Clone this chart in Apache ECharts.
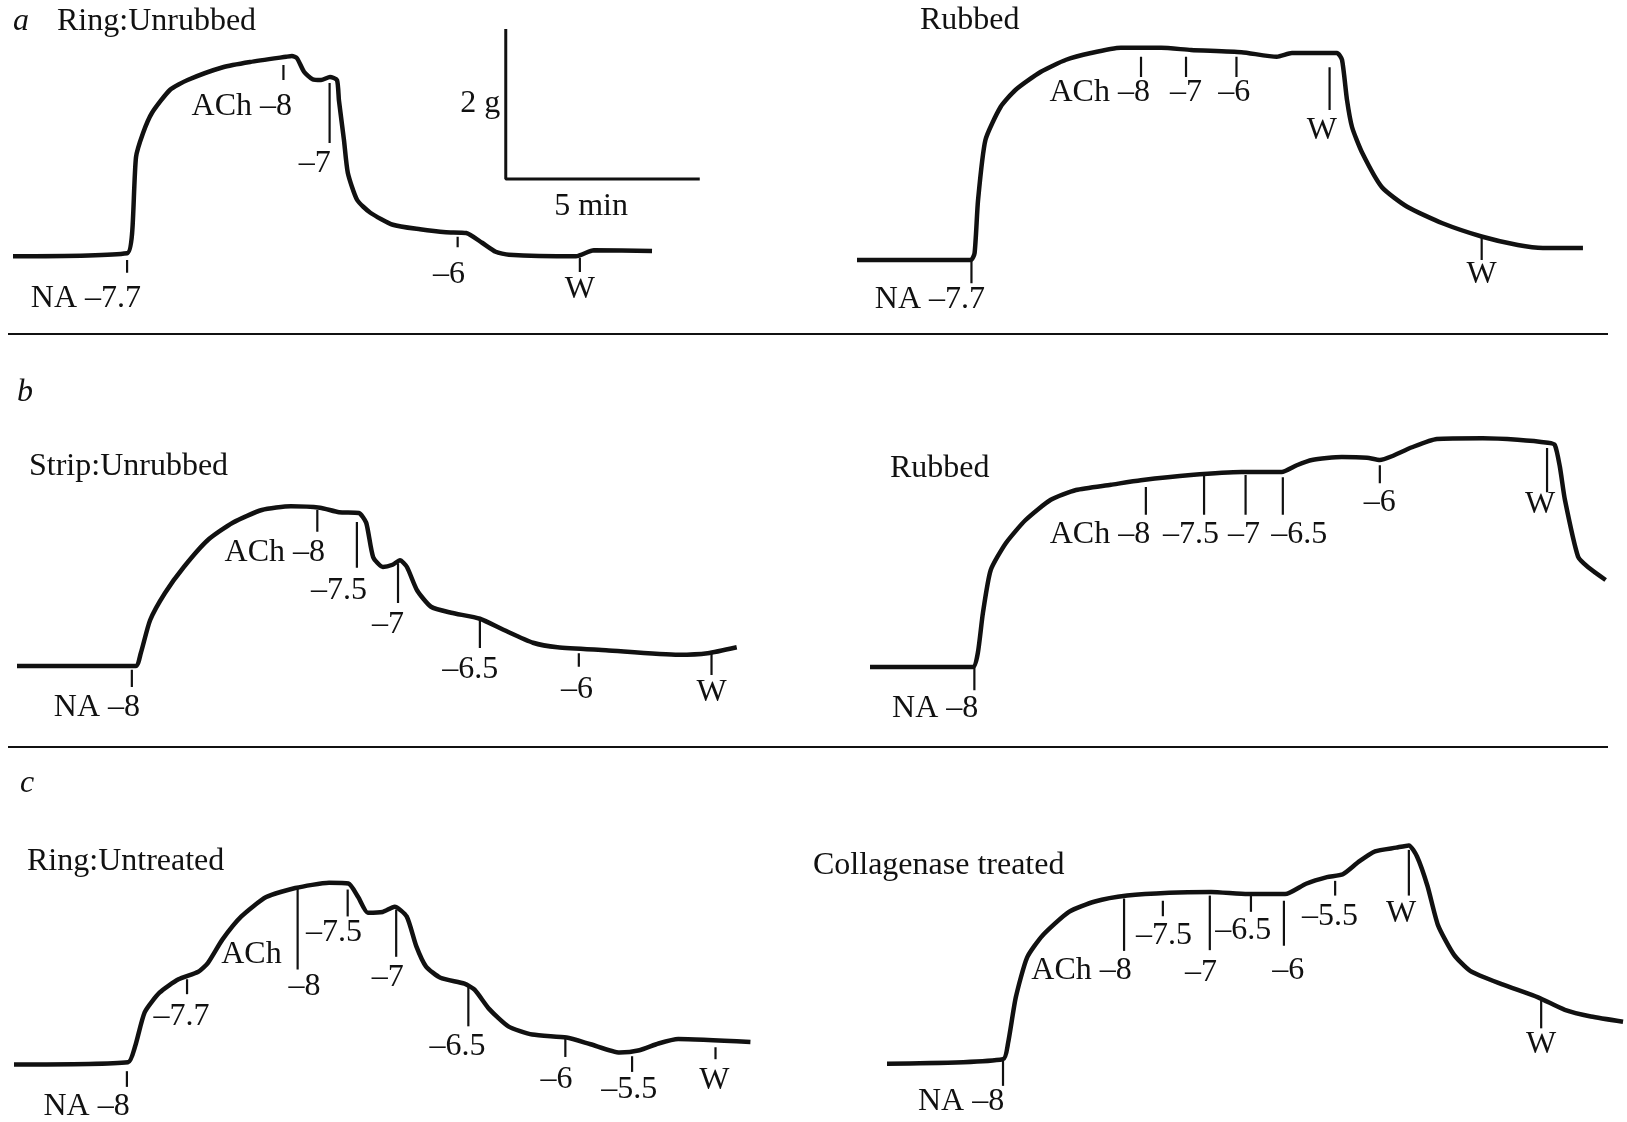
<!DOCTYPE html>
<html>
<head>
<meta charset="utf-8">
<title>Tension records</title>
<script src="https://cdn.jsdelivr.net/npm/echarts@6/dist/echarts.min.js"></script>
<style>
    html, body { margin: 0; padding: 0; background: #fff; }
    #chart { width: 1627px; height: 1122px; }
</style>
</head>
<body>
<div id="chart"></div>
<script>
// traces: [time (min), tension (g)]
const ringUnrubbedTrace = [[0,-0.03],[2.94,0.01],[3.07,0.28],[3.17,1.29],[3.35,1.61],[3.58,1.88],[4.05,2.19],[4.5,2.32],[5.41,2.49],[6.11,2.56],[7.04,2.63],[7.19,2.64],[7.32,2.61],[7.5,2.43],[7.72,2.33],[7.94,2.32],[8.17,2.36],[8.35,2.32],[8.4,2.05],[8.53,1.52],[8.63,1.08],[8.87,0.72],[9.21,0.55],[9.79,0.39],[10.49,0.33],[11.16,0.29],[11.68,0.28],[12.09,0.15],[12.44,0.03],[12.78,-0.01],[14.51,-0.03],[14.97,0.05],[16.47,0.04]];
const ringRubbedTrace = [[0,0],[2.93,0],[3.03,0.09],[3.12,0.8],[3.31,1.6],[3.7,2.04],[4.09,2.27],[4.74,2.51],[5.39,2.67],[6.03,2.76],[6.8,2.83],[7.84,2.83],[8.61,2.8],[9.91,2.77],[10.82,2.71],[11.21,2.76],[12.37,2.76],[12.5,2.67],[12.63,2.13],[12.76,1.77],[13.02,1.43],[13.53,0.97],[14.18,0.71],[15.09,0.49],[16.12,0.31],[17.03,0.2],[17.68,0.16],[18.71,0.16]];
const stripUnrubbedTrace = [[0,0],[3.06,0],[3.19,0.17],[3.43,0.61],[3.81,0.97],[4.3,1.32],[4.92,1.68],[5.56,1.91],[6.31,2.08],[7.06,2.13],[7.81,2.11],[8.3,2.05],[8.81,2.04],[9.0,1.91],[9.18,1.45],[9.43,1.32],[9.68,1.35],[9.87,1.41],[10.05,1.32],[10.31,1.01],[10.67,0.79],[11.19,0.71],[11.93,0.63],[12.55,0.48],[13.3,0.31],[13.93,0.25],[15.18,0.21],[17.05,0.15],[17.8,0.17],[18.55,0.25]];
const stripRubbedTrace = [[0,0],[2.65,0],[2.78,0.19],[2.91,0.72],[3.11,1.29],[3.5,1.65],[4.01,1.96],[4.66,2.23],[5.31,2.36],[6.21,2.43],[6.98,2.49],[8.27,2.56],[9.58,2.6],[10.61,2.6],[11.0,2.69],[11.39,2.76],[12.16,2.8],[12.81,2.79],[13.14,2.76],[13.45,2.81],[13.97,2.93],[14.61,3.04],[15.79,3.05],[16.69,3.03],[17.47,2.99],[17.65,2.96],[17.78,2.67],[17.91,2.23],[18.25,1.47],[18.51,1.33],[18.96,1.16]];
const ringUntreatedTrace = [[0,-0.03],[2.94,0],[3.12,0.21],[3.37,0.67],[3.75,0.93],[4.24,1.11],[4.75,1.21],[5.0,1.33],[5.37,1.64],[5.86,1.95],[6.5,2.21],[7.25,2.33],[8.12,2.4],[8.62,2.39],[8.87,2.21],[9.12,2.0],[9.5,2.01],[9.81,2.08],[10.12,1.95],[10.37,1.55],[10.62,1.28],[10.99,1.13],[11.61,1.05],[11.87,0.97],[12.25,0.71],[12.74,0.48],[13.36,0.37],[14.24,0.33],[14.86,0.24],[15.61,0.13],[16.12,0.16],[16.61,0.25],[17.12,0.31],[18.98,0.27]];
const collagenaseTrace = [[0,-0.01],[2.99,0.05],[3.12,0.27],[3.32,0.89],[3.61,1.43],[4.01,1.73],[4.69,2.05],[5.36,2.19],[6.19,2.27],[7.27,2.31],[8.35,2.32],[9.3,2.29],[10.26,2.29],[10.8,2.43],[11.34,2.52],[11.75,2.56],[12.16,2.73],[12.58,2.87],[13.12,2.92],[13.45,2.95],[13.66,2.8],[13.93,2.4],[14.2,1.87],[14.61,1.47],[15.03,1.25],[15.84,1.07],[16.78,0.89],[17.47,0.72],[18.14,0.63],[18.97,0.56]];

// drug marks: [time, tick top g, tick bottom g, label, label time, label g, align]
const ringUnrubbedMarks = [
    [2.94, -0.08, -0.25, 'NA –7.7', 1.88, -0.59, 'center'],
    [6.97, 2.52, 2.32, 'ACh –8', 7.19, 1.96, 'right'],
    [8.16, 2.28, 1.48, '–7', 7.78, 1.21, 'center'],
    [11.46, 0.23, 0.09, '–6', 11.24, -0.28, 'center'],
    [14.61, -0.05, -0.24, 'W', 14.61, -0.48, 'center'],
    [12.04, null, null, '2 g', 12.04, 2.0, 'center'],
    [14.9, null, null, '5 min', 14.9, 0.63, 'center']
];
const ringRubbedMarks = [
    [2.95, 0, -0.31, 'NA –7.7', 1.88, -0.53, 'center'],
    [7.32, 2.71, 2.44, 'ACh –8', 7.55, 2.23, 'right'],
    [8.48, 2.71, 2.44, '–7', 8.48, 2.23, 'center'],
    [9.78, 2.71, 2.44, '–6', 9.72, 2.23, 'center'],
    [12.18, 2.57, 2.0, 'W', 11.98, 1.73, 'center'],
    [16.1, 0.31, 0, 'W', 16.1, -0.2, 'center']
];
const stripUnrubbedMarks = [
    [2.96, -0.05, -0.28, 'NA –8', 2.06, -0.56, 'center'],
    [7.74, 2.08, 1.79, 'ACh –8', 7.94, 1.51, 'right'],
    [8.76, 1.92, 1.31, '–7.5', 8.3, 1.01, 'center'],
    [9.82, 1.37, 0.84, '–7', 9.56, 0.55, 'center'],
    [11.93, 0.61, 0.24, '–6.5', 11.68, -0.05, 'center'],
    [14.48, 0.17, -0.01, '–6', 14.43, -0.32, 'center'],
    [17.9, 0.19, -0.12, 'W', 17.9, -0.35, 'center']
];
const stripRubbedMarks = [
    [2.69, 0, -0.31, 'NA –8', 1.68, -0.55, 'center'],
    [7.11, 2.4, 2.03, 'ACh –8', 7.22, 1.76, 'right'],
    [8.61, 2.56, 2.03, '–7.5', 8.27, 1.76, 'center'],
    [9.68, 2.56, 2.03, '–7', 9.64, 1.76, 'center'],
    [10.64, 2.53, 2.03, '–6.5', 11.06, 1.76, 'center'],
    [13.14, 2.69, 2.45, '–6', 13.14, 2.19, 'center'],
    [17.45, 2.92, 2.33, 'W', 17.27, 2.16, 'center']
];
const ringUntreatedMarks = [
    [2.91, -0.12, -0.33, 'NA –8', 1.87, -0.59, 'center'],
    [4.46, 1.11, 0.91, '–7.7', 4.32, 0.61, 'center'],
    [6.12, null, null, 'ACh', 6.12, 1.44, 'center'],
    [7.31, 2.33, 1.24, '–8', 7.49, 1.01, 'center'],
    [8.6, 2.31, 1.95, '–7.5', 8.25, 1.73, 'center'],
    [9.85, 2.04, 1.41, '–7', 9.63, 1.13, 'center'],
    [11.71, 1.01, 0.48, '–6.5', 11.43, 0.21, 'center'],
    [14.21, 0.31, 0.07, '–6', 13.98, -0.23, 'center'],
    [15.93, 0.08, -0.13, '–5.5', 15.86, -0.36, 'center'],
    [18.08, 0.2, 0.04, 'W', 18.05, -0.25, 'center']
];
const collagenaseMarks = [
    [2.99, 0.03, -0.31, 'NA –8', 1.91, -0.53, 'center'],
    [6.11, 2.23, 1.52, 'ACh –8', 6.31, 1.25, 'right'],
    [7.11, 2.2, 1.99, '–7.5', 7.14, 1.73, 'center'],
    [8.32, 2.27, 1.53, '–7', 8.09, 1.23, 'center'],
    [9.38, 2.27, 2.05, '–6.5', 9.18, 1.79, 'center'],
    [10.23, 2.2, 1.59, '–6', 10.34, 1.25, 'center'],
    [11.55, 2.47, 2.27, '–5.5', 11.42, 1.99, 'center'],
    [13.45, 2.89, 2.27, 'W', 13.25, 2.03, 'center'],
    [16.86, 0.87, 0.47, 'W', 16.86, 0.25, 'center']
];

// calibration: 2 g vertical, 5 min horizontal
const scaleBar = [[12.7, 3.0], [12.7, 1.0], [17.7, 1.0]];

const FONT = '"Liberation Serif", "Times New Roman", serif';
const FONT_SIZE = 32;
const INK = '#111';
const PX_PER_MIN = 38.8;
const Y_MIN = -0.8, Y_MAX = 3.2;

const panels = [
    { trace: ringUnrubbedTrace, marks: ringUnrubbedMarks, left: 13, top: 14, xMax: 20 },
    { trace: ringRubbedTrace, marks: ringRubbedMarks, left: 857, top: 20, xMax: 19 },
    { trace: stripUnrubbedTrace, marks: stripUnrubbedMarks, left: 17, top: 426, xMax: 20 },
    { trace: stripRubbedTrace, marks: stripRubbedMarks, left: 870, top: 427, xMax: 19 },
    { trace: ringUntreatedTrace, marks: ringUntreatedMarks, left: 14, top: 823, xMax: 20 },
    { trace: collagenaseTrace, marks: collagenaseMarks, left: 887, top: 827, xMax: 19 }
];

function markSeries(i, marks) {
    return {
        type: 'custom',
        xAxisIndex: i,
        yAxisIndex: i,
        silent: true,
        clip: false,
        data: marks.map(m => [m[4], m[5]]),
        renderItem: function (params, api) {
            const m = marks[params.dataIndex];
            const children = [];
            if (m[1] !== null) {
                const p1 = api.coord([m[0], m[1]]);
                const p2 = api.coord([m[0], m[2]]);
                children.push({
                    type: 'line',
                    shape: { x1: p1[0], y1: p1[1], x2: p2[0], y2: p2[1] },
                    style: { stroke: INK, lineWidth: 2.2 }
                });
            }
            const q = api.coord([m[4], m[5]]);
            children.push({
                type: 'text',
                x: q[0],
                y: q[1],
                style: {
                    text: m[3],
                    align: m[6],
                    verticalAlign: 'middle',
                    fontFamily: FONT,
                    fontSize: FONT_SIZE,
                    fill: INK
                }
            });
            return { type: 'group', children: children };
        }
    };
}

const grids = [], xAxes = [], yAxes = [], series = [];
panels.forEach((p, i) => {
    grids.push({ left: p.left, top: p.top, width: p.xMax * PX_PER_MIN, height: 300 });
    xAxes.push({ type: 'value', gridIndex: i, min: 0, max: p.xMax, show: false });
    yAxes.push({ type: 'value', gridIndex: i, min: Y_MIN, max: Y_MAX, show: false });
    series.push({
        type: 'line',
        xAxisIndex: i,
        yAxisIndex: i,
        data: p.trace,
        symbol: 'none',
        smooth: 0.2,
        silent: true,
        lineStyle: { color: INK, width: 4.5 }
    });
    series.push(markSeries(i, p.marks));
});
series.push({
    type: 'line',
    xAxisIndex: 0,
    yAxisIndex: 0,
    data: scaleBar,
    symbol: 'none',
    silent: true,
    lineStyle: { color: INK, width: 3 }
});

function label(text, left, top, italic) {
    return {
        text: text, left: left, top: top, padding: 0,
        textStyle: { fontFamily: FONT, fontSize: FONT_SIZE, fontWeight: 'normal', fontStyle: italic ? 'italic' : 'normal', color: INK }
    };
}

const chart = echarts.init(document.getElementById('chart'));
chart.setOption({
    animation: false,
    backgroundColor: '#fff',
    title: [
        label('a', 13, 6, true),
        label('Ring:Unrubbed', 57, 6),
        label('Rubbed', 920, 5),
        label('b', 17, 377, true),
        label('Strip:Unrubbed', 29, 451),
        label('Rubbed', 890, 453),
        label('c', 20, 768, true),
        label('Ring:Untreated', 27, 846),
        label('Collagenase treated', 813, 850)
    ],
    graphic: [
        { type: 'line', shape: { x1: 8, y1: 334, x2: 1608, y2: 334 }, style: { stroke: INK, lineWidth: 2 } },
        { type: 'line', shape: { x1: 8, y1: 747, x2: 1608, y2: 747 }, style: { stroke: INK, lineWidth: 2 } }
    ],
    grid: grids,
    xAxis: xAxes,
    yAxis: yAxes,
    series: series
});
</script>
</body>
</html>
